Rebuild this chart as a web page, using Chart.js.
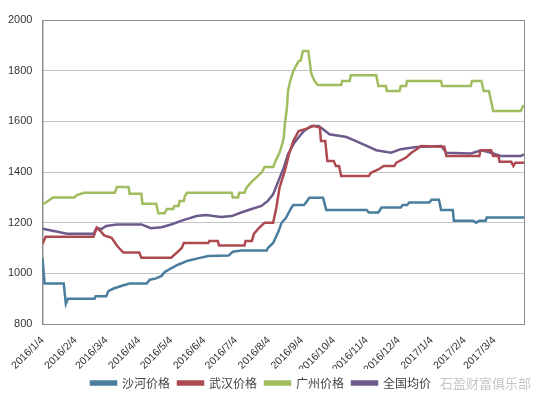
<!DOCTYPE html>
<html>
<head>
<meta charset="utf-8">
<script src="https://cdn.jsdelivr.net/npm/chart.js@4/dist/chart.umd.min.js"></script>
<style>
  html, body { margin: 0; padding: 0; background: #fff; }
  #wrap { width: 535px; height: 399px; position: relative; }
</style>
</head>
<body>
<div id="wrap"><canvas id="priceChart"></canvas></div>
<script>
// 刻度：2016/1/4 起算的天数
const tickDays = [0, 31, 60, 91, 121, 152, 182, 213, 244, 274, 305, 335, 366, 397, 425];
const tickLabels = ['2016/1/4', '2016/2/4', '2016/3/4', '2016/4/4', '2016/5/4', '2016/6/4', '2016/7/4',
    '2016/8/4', '2016/9/4', '2016/10/4', '2016/11/4', '2016/12/4', '2017/1/4', '2017/2/4', '2017/3/4'];
const lastDay = 453;

// 沙河价格
const shaheDays = [0, 2, 20, 22, 24, 49, 50, 60, 62, 67, 74, 82, 98, 101, 107, 112, 115, 121, 128, 137, 147, 156, 175, 179, 187,
    211, 212, 217, 222, 225, 229, 234, 236, 246, 248, 251, 264, 267, 305, 307, 316, 319, 337, 339, 343, 345, 364, 366, 373,
    375, 386, 387, 405, 408, 411, 417, 418, 453];
const shaheVals = [1060, 960, 960, 880, 900, 900, 910, 910, 930, 940, 950, 960, 960, 975, 980, 990, 1005, 1020, 1035, 1050, 1060, 1068, 1070, 1085, 1090,
    1090, 1100, 1120, 1165, 1200, 1218, 1258, 1270, 1270, 1280, 1298, 1298, 1250, 1250, 1240, 1240, 1260, 1260, 1270, 1270, 1280, 1280, 1290, 1290,
    1250, 1250, 1208, 1208, 1200, 1208, 1208, 1220, 1220];

// 武汉价格
const wuhanDays = [0, 3, 48, 51, 55, 58, 65, 70, 72, 76, 91, 93, 121, 126, 131, 133, 156, 157, 165, 166, 190, 191, 197, 199, 204, 209,
    217, 220, 223, 228, 232, 236, 241, 248, 255, 261, 262, 266, 268, 274, 276, 279, 281, 307, 309, 316, 321, 331, 333, 342, 347,
    352, 356, 378, 380, 411, 412, 422, 424, 429, 430, 441, 443, 445, 453];
const wuhanVals = [1116, 1144, 1144, 1180, 1165, 1150, 1140, 1110, 1100, 1082, 1082, 1062, 1062, 1080, 1100, 1120, 1120, 1128, 1128, 1110, 1110, 1128, 1128, 1157, 1180, 1200,
    1200, 1259, 1338, 1404, 1471, 1522, 1562, 1570, 1582, 1575, 1522, 1522, 1443, 1443, 1424, 1424, 1384, 1384, 1397, 1410, 1424, 1424, 1437, 1457, 1476,
    1490, 1503, 1500, 1463, 1463, 1486, 1486, 1463, 1463, 1440, 1440, 1424, 1437, 1437];

// 广州价格
const guangzhouDays = [0, 3, 10, 30, 32, 39, 68, 70, 81, 82, 93, 94, 107, 109, 115, 117, 123, 124, 128, 129, 133, 134, 136, 178, 179, 184, 185,
    190, 192, 196, 201, 206, 209, 217, 220, 223, 225, 227, 228, 230, 231, 233, 236, 241, 243, 245, 250, 253, 256, 259, 281, 282,
    289, 290, 314, 316, 323, 324, 336, 337, 342, 343, 375, 376, 403, 404, 413, 415, 420, 422, 424, 450, 452, 453];
const guangzhouVals = [1273, 1279, 1299, 1299, 1308, 1318, 1318, 1341, 1341, 1314, 1314, 1275, 1275, 1237, 1237, 1254, 1254, 1266, 1266, 1286, 1286, 1305, 1318, 1318, 1299, 1299, 1318,
    1318, 1338, 1358, 1378, 1397, 1420, 1420, 1450, 1476, 1503, 1535, 1588, 1654, 1720, 1759, 1799, 1838, 1840, 1878, 1878, 1787, 1759, 1743, 1743, 1759,
    1759, 1782, 1782, 1739, 1739, 1720, 1720, 1739, 1739, 1759, 1759, 1739, 1739, 1759, 1759, 1720, 1720, 1680, 1641, 1641, 1660, 1660];

// 全国均价
const nationalDays = [0, 13, 23, 48, 51, 55, 60, 70, 93, 102, 112, 121, 131, 145, 154, 168, 178, 187, 196, 206, 212, 217, 222, 227,
    231, 237, 242, 246, 253, 260, 264, 270, 286, 295, 305, 314, 328, 337, 352, 375, 380, 403, 413, 422, 431, 450, 453];
const nationalVals = [1176, 1165, 1156, 1156, 1180, 1174, 1187, 1193, 1193, 1178, 1182, 1193, 1208, 1226, 1230, 1222, 1226, 1240, 1253, 1266, 1286, 1312, 1365, 1417,
    1470, 1516, 1542, 1562, 1582, 1582, 1569, 1549, 1538, 1522, 1503, 1486, 1476, 1490, 1499, 1503, 1476, 1473, 1486, 1476, 1463, 1463, 1470];

const seriesNames = ['沙河价格', '武汉价格', '广州价格', '全国均价'];
const seriesColors = ['#4a7d9e', '#ad4a50', '#a0bd60', '#6c5b8c'];

function toPoints(days, vals) {
    return days.map((d, i) => ({ x: d, y: vals[i] }));
}

const allSeries = [
    toPoints(shaheDays, shaheVals),
    toPoints(wuhanDays, wuhanVals),
    toPoints(guangzhouDays, guangzhouVals),
    toPoints(nationalDays, nationalVals),
];

const datasets = allSeries.map((pts, i) => ({
    label: seriesNames[i],
    data: pts,
    borderColor: seriesColors[i],
    backgroundColor: seriesColors[i],
    borderWidth: 2.5,
    pointRadius: 0,
    tension: 0,
    fill: false,
}));

// 绘图区外框 + 水印
const frameBox = {
    id: 'frameBox',
    beforeDatasetsDraw(chart) {
        const { ctx, chartArea: a } = chart;
        ctx.save();
        ctx.strokeStyle = '#8c8c8c';
        ctx.lineWidth = 1;
        ctx.strokeRect(a.left + 0.5, a.top + 0.5, a.right - a.left, a.bottom - a.top);
        ctx.restore();
    },
    afterDraw(chart) {
        const { ctx } = chart;
        ctx.save();
        ctx.fillStyle = 'rgba(150,150,150,0.55)';
        ctx.font = '13px "Noto Sans CJK SC"';
        ctx.textBaseline = 'middle';
        ctx.fillText('石盈财富俱乐部', 440, 383);
        ctx.restore();
    }
};

const ctx = document.getElementById('priceChart').getContext('2d');
new Chart(ctx, {
    type: 'line',
    data: { datasets },
    options: {
        responsive: true,
        maintainAspectRatio: false,
        animation: false,
        layout: { padding: { top: 20, right: 11, left: -2, bottom: 0 } },
        plugins: {
            legend: {
                position: 'bottom',
                labels: {
                    boxWidth: 25,
                    boxHeight: 3,
                    padding: 8,
                    color: '#444',
                    font: { family: '"Noto Sans CJK SC"', size: 12 },
                },
            },
            tooltip: { enabled: false },
        },
        scales: {
            x: {
                type: 'linear',
                min: 0,
                max: lastDay,
                afterBuildTicks: (axis) => { axis.ticks = tickDays.map((v) => ({ value: v })); },
                afterFit: (axis) => { axis.paddingLeft = 0; axis.height = 45; },
                ticks: {
                    autoSkip: false,
                    minRotation: 45,
                    maxRotation: 45,
                    padding: 2,
                    color: '#333',
                    font: { family: '"Liberation Sans"', size: 10.5 },
                    callback: (v) => tickLabels[tickDays.indexOf(v)],
                },
                grid: { display: false },
                border: { color: '#8c8c8c' },
            },
            y: {
                min: 800,
                max: 2000,
                ticks: {
                    stepSize: 200,
                    padding: 10,
                    color: '#333',
                    font: { family: '"Liberation Sans"', size: 11 },
                    callback: (v) => String(v),
                },
                grid: { color: '#c4c4c4', drawTicks: false },
                border: { color: '#8c8c8c' },
            },
        },
    },
    plugins: [frameBox],
});
</script>
</body>
</html>
